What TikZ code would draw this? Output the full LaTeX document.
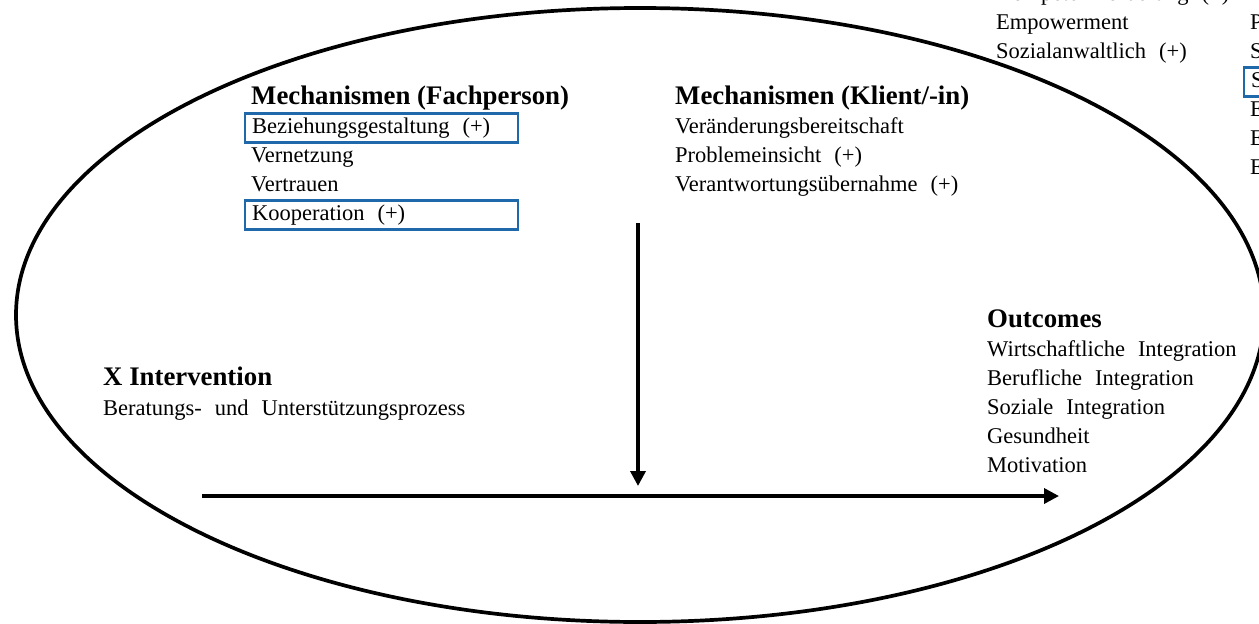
\documentclass[tikz,border=0pt]{standalone}
\usepackage{fontspec}
\setmainfont{Liberation Serif}
\usetikzlibrary{arrows.meta}
\definecolor{boxblue}{RGB}{31,105,170}
\newcommand{\itemfont}{\fontsize{22.5}{29}\selectfont}
\tikzstyle{head}=[anchor=base west,inner sep=0pt,font=\fontsize{26.8}{30}\selectfont\bfseries]
\tikzstyle{item}=[anchor=base west,inner sep=0pt,font=\itemfont,execute at begin node={\spaceskip=13pt\relax}]
\tikzstyle{boxed}=[item,draw=boxblue,line width=2.2pt,inner xsep=7pt,text height=16pt,text depth=6pt,inner ysep=3.5pt,xshift=-7pt]
\tikzstyle{flow}=[draw,line width=3.5pt,-{Triangle[width=15pt,length=15pt]}]

\begin{document}
\begin{tikzpicture}[x=1pt,y=-1pt]
                \useasboundingbox (0,0) rectangle (1259,624);
                \clip (0,0) rectangle (1259,624);
                \draw[line width=3.7pt] (640,315) ellipse [x radius=624pt, y radius=307pt];
                % Fachperson
                \path (251,104) node[head] (fach) {Mechanismen (Fachperson)}
                    ++ (0,29) node[boxed,text width=259pt] (fach1) {Beziehungsgestaltung (+)}
                    ++ (0,29) node[item] (fach2) {Vernetzung}
                    ++ (0,29) node[item] (fach3) {Vertrauen}
                    ++ (0,29) node[boxed,text width=259pt] (fach4) {Kooperation (+)}
                    ;
                % Klient/-in
                \path (675,104) node[head] (klient) {Mechanismen (Klient/-in)}
                    ++ (0,29) node[item] (klient1) {Veränderungsbereitschaft}
                    ++ (0,29) node[item] (klient2) {Problemeinsicht (+)}
                    ++ (0,29) node[item] (klient3) {Verantwortungsübernahme (+)}
                    ;
                % Intervention
                \path (103,385) node[head] (interv) {X Intervention}
                    ++ (0,30) node[item] (interv1) {Beratungs- und Unterstützungsprozess}
                    ;
                % Outcomes
                \path (987,327) node[head] (outc) {Outcomes}
                    ++ (0,29) node[item] (outc1) {Wirtschaftliche Integration}
                    ++ (0,29) node[item] (outc2) {Berufliche Integration}
                    ++ (0,29) node[item] (outc3) {Soziale Integration}
                    ++ (0,29) node[item] (outc4) {Gesundheit}
                    ++ (0,29) node[item] (outc5) {Motivation}
                    ;
                % cut-off block top right
                \path (996,0) node[item] (ctx1) {Kompetenzförderung (+)}
                    ++ (0,29) node[item] (ctx2) {Empowerment}
                    ++ (0,29) node[item] (ctx3) {Sozialanwaltlich (+)}
                    (1250,0) node[item] (rc0) {E}
                    ++ (0,29) node[item] (rc1) {P}
                    ++ (0,29) node[item] (rc2) {S}
                    ++ (0,29) node[boxed,text width=40pt] (rc3) {S}
                    ++ (0,29) node[item] (rc4) {E}
                    ++ (0,29) node[item] (rc5) {E}
                    ++ (0,29) node[item] (rc6) {E}
                    ;
                \coordinate (mechtop) at (638,223);
                \coordinate (mechend) at (638,486);
                \coordinate (xstart) at (202,496);
                \coordinate (xend) at (1059,496);
                \draw[flow] (mechtop) -- (mechend);
                \draw[flow] (xstart) -- (xend);
            \end{tikzpicture}
\end{document}
